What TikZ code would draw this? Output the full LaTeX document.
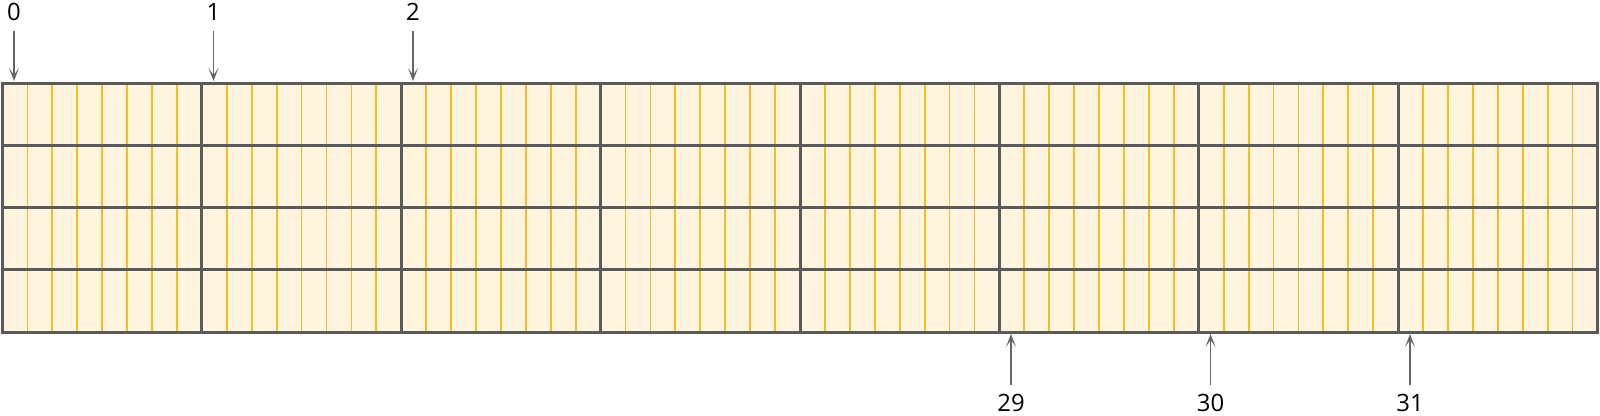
\documentclass[tikz,border=0pt]{standalone}
\usepackage{fontspec}
\setmainfont{Open Sans}
\usetikzlibrary{arrows.meta,positioning}
\definecolor{cellfill}{HTML}{FFF5DF}
\definecolor{lanecol}{HTML}{F5BD1F}
\definecolor{gridcol}{HTML}{5A5A5A}
\definecolor{ptrcol}{HTML}{666666}
\tikzset{
  lbl/.style={font=\fontsize{13.6}{16}\selectfont, inner sep=0pt},
  ptr/.style={draw=ptrcol, line width=0.025cm, -{Stealth[length=0.26cm,width=0.2cm,inset=0.14cm]}},
  lane/.style={draw=lanecol, line width=0.036cm},
  grid/.style={draw=gridcol, line width=0.06cm}
}
\begin{document}
\begin{tikzpicture}[x=0.02cm,y=-0.02cm]
\useasboundingbox (0,0) rectangle (1600,416);
% block area
\fill[cellfill] (2.5,83) rectangle (1597.5,332);
\foreach \k in {1,...,63}{
  \pgfmathtruncatemacro{\m}{mod(\k,8)}
  \ifnum\m>0
    \draw[lane] ({2.5+\k*199.375/8},83) -- ({2.5+\k*199.375/8},332);
  \fi
}
\foreach \r in {145.25,207.5,269.75}
  \draw[grid] (2.5,\r) -- (1597.5,\r);
\foreach \c in {1,...,7}
  \draw[grid] ({2.5+\c*199.375},83) -- ({2.5+\c*199.375},332);
\draw[grid] (2.5,83) rectangle (1597.5,332);

% top pointers
\node[lbl] (l0) at (14,12) {0};
\node[lbl] (l1) at (213.5,12) {1};
\node[lbl] (l2) at (413,12) {2};
\coordinate (t0) at (14,81);
\coordinate (t1) at (213.5,81);
\coordinate (t2) at (413,81);
\draw[ptr, shorten <=0.2cm] (l0.south) -- (t0);
\draw[ptr, shorten <=0.2cm] (l1.south) -- (t1);
\draw[ptr, shorten <=0.2cm] (l2.south) -- (t2);

% bottom pointers
\node[lbl] (l29) at (1011,403) {29};
\node[lbl] (l30) at (1210.5,403) {30};
\node[lbl] (l31) at (1410,403) {31};
\coordinate (b29) at (1011,334);
\coordinate (b30) at (1210.5,334);
\coordinate (b31) at (1410,334);
\draw[ptr, shorten <=0.18cm] (l29.north) -- (b29);
\draw[ptr, shorten <=0.18cm] (l30.north) -- (b30);
\draw[ptr, shorten <=0.18cm] (l31.north) -- (b31);
\end{tikzpicture}
\end{document}
